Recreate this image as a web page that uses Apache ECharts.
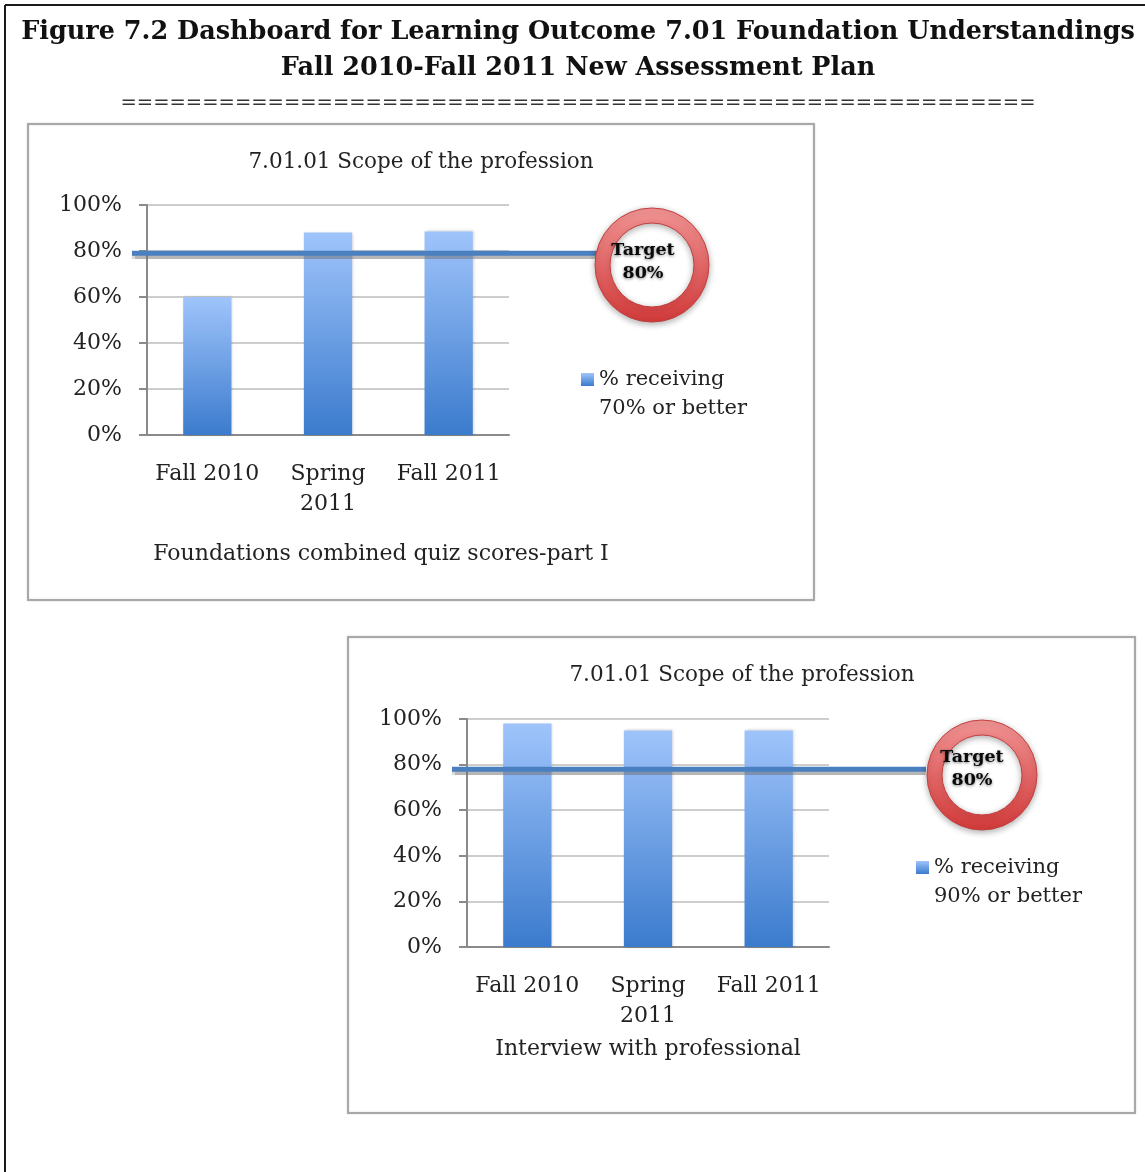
<!DOCTYPE html>
<html lang="en">
<head>
    <meta charset="UTF-8">
    <title>Figure 7.2 Dashboard</title>
    <style>
        html, body { margin: 0; padding: 0; background: #fff; }
        #dash { width: 1145px; height: 1172px; }
    </style>
    <script src="https://cdn.jsdelivr.net/npm/echarts@6/dist/echarts.min.js"></script>
</head>
<body>
    <div id="dash"></div>
    <script>
        // data
        const categories = ['Fall 2010', 'Spring 2011', 'Fall 2011'];
        const quizScores = [60, 88, 88.5];          // % receiving 70% or better
        const interviewScores = [98, 95, 95];       // % receiving 90% or better
        const targetDrawn = [79, 78];               // where the blue target line sits
        const yTicks = [0, 20, 40, 60, 80, 100];
        const targetText = 'Target\n80%';

        const serif = 'DejaVu Serif';
        const ink = '#222';

        const barFill = new echarts.graphic.LinearGradient(0, 0, 0, 1, [
            { offset: 0, color: '#9fc4fb' },
            { offset: 1, color: '#3b7bcd' }
        ]);

        function ring(cx, cy, r) {
            return {
                type: 'ring',
                shape: { cx: cx, cy: cy, r: r, r0: r - 15 },
                style: {
                    fill: new echarts.graphic.LinearGradient(0, 0, 0, 1, [
                        { offset: 0, color: '#f29494' },
                        { offset: 1, color: '#d23a3a' }
                    ]),
                    stroke: '#c44040', lineWidth: 1,
                    shadowBlur: 6, shadowColor: 'rgba(0,0,0,0.3)', shadowOffsetY: 2
                },
                z: 50
            };
        }

        function ringText(x, y) {
            return {
                type: 'text', x: x, y: y, z: 60,
                style: {
                    text: targetText, fill: '#0a0a0a',
                    font: 'bold 17.5px "DejaVu Serif"', lineHeight: 23,
                    align: 'center', verticalAlign: 'middle',
                    textShadowBlur: 3, textShadowColor: 'rgba(0,0,0,0.5)', textShadowOffsetY: 1
                }
            };
        }

        function valueAxis(gridIndex, show) {
            return {
                type: 'value', gridIndex: gridIndex, min: 0, max: 100, interval: 20,
                show: show,
                axisLine: { show: true, lineStyle: { color: '#8a8a8a', width: 2 } },
                axisTick: { show: true, length: 8, lineStyle: { color: '#8a8a8a', width: 2 } },
                axisLabel: {
                    margin: 25, color: ink, fontFamily: serif, fontSize: 22,
                    formatter: v => yTicks.includes(v) ? v + '%' : ''
                },
                splitLine: { show: true, lineStyle: { color: '#bcbcbc', width: 1.5 } }
            };
        }

        function catAxis(gridIndex, title, gap, shift) {
            return {
                type: 'category', gridIndex: gridIndex, data: categories,
                axisLine: { lineStyle: { color: '#8a8a8a', width: 2 } },
                axisTick: { length: 7, lineStyle: { color: '#8a8a8a', width: 2 } },
                axisLabel: {
                    margin: 24, color: ink, fontFamily: serif, fontSize: 22, lineHeight: 30,
                    interval: 0,
                    formatter: v => v.replace('Spring ', 'Spring\n')
                },
                name: title, nameLocation: 'middle', nameGap: gap,
                nameTextStyle: { color: ink, fontFamily: serif, fontSize: 22, padding: [0, 0, 0, shift] }
            };
        }

        function hiddenX(gridIndex) {
            return { type: 'value', gridIndex: gridIndex, min: 0, max: 1, show: false };
        }

        function targetSeries(idx, level) {
            return {
                type: 'line', xAxisIndex: idx, yAxisIndex: idx,
                data: [[0, level], [1, level]],
                symbol: 'none', silent: true, z: 20,
                lineStyle: {
                    color: '#4a7fc0', width: 5,
                    shadowColor: 'rgba(110,110,110,0.5)', shadowOffsetY: 3, shadowBlur: 1
                }
            };
        }

        function legendFor(name, left, top) {
            return {
                data: [name], left: left, top: top, icon: 'rect', itemWidth: 13, itemHeight: 13,
                // blank first line so the swatch sits beside the first text line
                formatter: n => ' \n' + n,
                textStyle: { fontFamily: serif, fontSize: 21, lineHeight: 29, color: ink }
            };
        }

        const chart = echarts.init(document.getElementById('dash'), null, { renderer: 'canvas' });

        const option = {
            animation: false,
            backgroundColor: '#fff',
            title: [
                {
                    text: 'Figure 7.2 Dashboard for Learning Outcome 7.01 Foundation Understandings\nFall 2010-Fall 2011 New Assessment Plan',
                    left: 573, top: 9, textAlign: 'center',
                    textStyle: { fontFamily: serif, fontWeight: 'bold', fontSize: 25.5, lineHeight: 36, color: '#111' }
                },
                {
                    text: '========================================================',
                    left: 573, top: 89, textAlign: 'center',
                    textStyle: { fontFamily: serif, fontWeight: 'normal', fontSize: 19.5, color: '#333' }
                },
                {
                    text: '7.01.01 Scope of the profession',
                    left: 416, top: 146, textAlign: 'center',
                    textStyle: { fontFamily: serif, fontWeight: 'normal', fontSize: 21.5, color: ink }
                },
                {
                    text: '7.01.01 Scope of the profession',
                    left: 737, top: 659, textAlign: 'center',
                    textStyle: { fontFamily: serif, fontWeight: 'normal', fontSize: 21.5, color: ink }
                }
            ],
            legend: [
                legendFor('% receiving\n70% or better', 576, 331),
                legendFor('% receiving\n90% or better', 911, 819)
            ],
            grid: [
                { left: 147, top: 205, width: 362, height: 230 },
                { left: 132, top: 205, width: 468, height: 230 },
                { left: 467, top: 719, width: 362, height: 228 },
                { left: 452, top: 719, width: 474, height: 228 }
            ],
            xAxis: [
                catAxis(0, 'Foundations combined quiz scores-part I', 108, 106),
                hiddenX(1),
                catAxis(2, 'Interview with professional', 91, 0),
                hiddenX(3)
            ],
            yAxis: [
                valueAxis(0, true),
                valueAxis(1, false),
                valueAxis(2, true),
                valueAxis(3, false)
            ],
            series: [
                {
                    name: '% receiving\n70% or better', type: 'bar', xAxisIndex: 0, yAxisIndex: 0,
                    data: quizScores, barWidth: '40%',
                    itemStyle: { color: barFill, shadowBlur: 3, shadowColor: 'rgba(0,0,0,0.2)', shadowOffsetX: 1 }
                },
                targetSeries(1, targetDrawn[0]),
                {
                    name: '% receiving\n90% or better', type: 'bar', xAxisIndex: 2, yAxisIndex: 2,
                    data: interviewScores, barWidth: '40%',
                    itemStyle: { color: barFill, shadowBlur: 3, shadowColor: 'rgba(0,0,0,0.2)', shadowOffsetX: 1 }
                },
                targetSeries(3, targetDrawn[1])
            ],
            graphic: [
                // page frame (top and left rules)
                { type: 'line', shape: { x1: 5, y1: 5, x2: 1145, y2: 5 }, style: { stroke: '#1a1a1a', lineWidth: 2 } },
                { type: 'line', shape: { x1: 5, y1: 5, x2: 5, y2: 1172 }, style: { stroke: '#1a1a1a', lineWidth: 2 } },
                // chart boxes
                {
                    type: 'rect', shape: { x: 28, y: 124, width: 786, height: 476 }, z: -10,
                    style: { fill: '#fff', stroke: '#a8a8a8', lineWidth: 2, shadowBlur: 2, shadowColor: 'rgba(0,0,0,0.15)' }
                },
                {
                    type: 'rect', shape: { x: 348, y: 637, width: 787, height: 476 }, z: -10,
                    style: { fill: '#fff', stroke: '#a8a8a8', lineWidth: 2, shadowBlur: 2, shadowColor: 'rgba(0,0,0,0.15)' }
                },
                ring(652, 265, 57),
                ringText(643, 262),
                ring(982, 775, 55),
                ringText(972, 769)
            ]
        };

        chart.setOption(option);
    </script>
</body>
</html>
